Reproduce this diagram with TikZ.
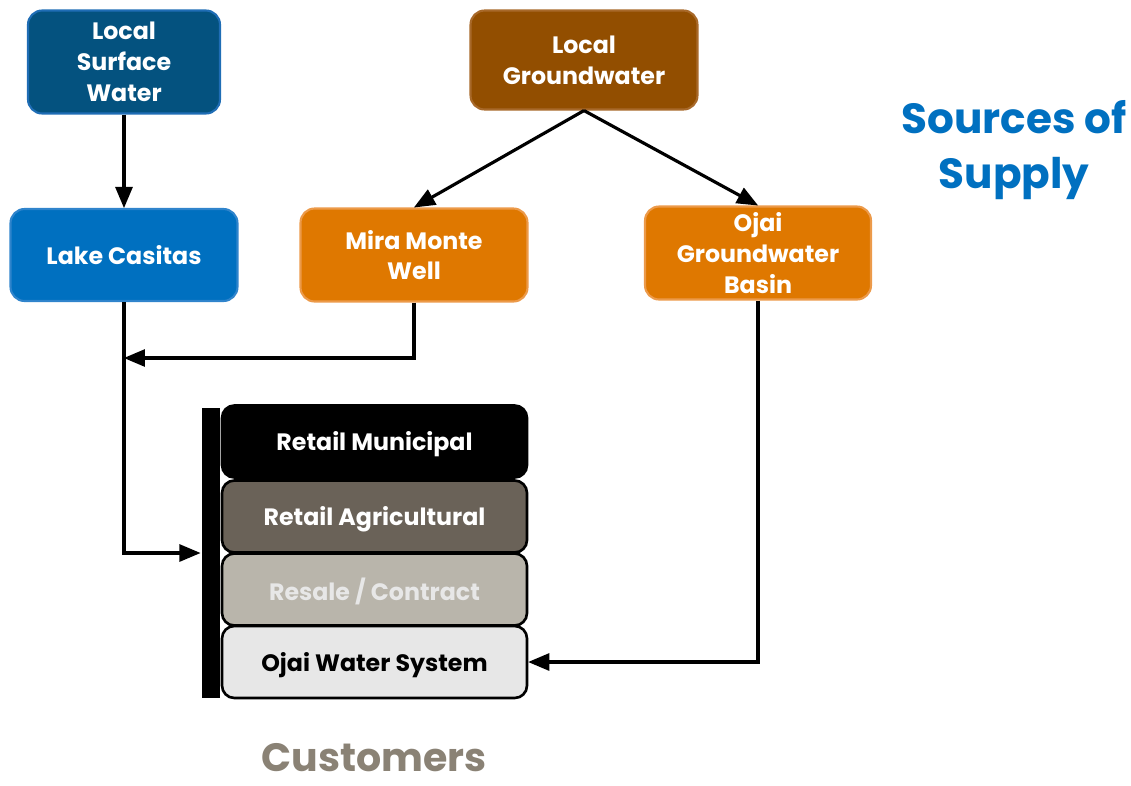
\documentclass[tikz,border=0pt]{standalone}
\usepackage{fontspec}
\setmainfont{Poppins}
\usetikzlibrary{arrows,shapes}
\definecolor{surfblue}{HTML}{04527F}
\definecolor{surfline}{HTML}{1F6DB5}
\definecolor{lakeblue}{HTML}{0070C0}
\definecolor{lakeline}{HTML}{2F84CC}
\definecolor{gwbrown}{HTML}{924E00}
\definecolor{gwline}{HTML}{A8692A}
\definecolor{wellorange}{HTML}{DF7800}
\definecolor{wellline}{HTML}{EC9A4A}
\definecolor{agrey}{HTML}{6A6258}
\definecolor{rgrey}{HTML}{B9B5AB}
\definecolor{ogrey}{HTML}{E7E7E7}
\definecolor{custtext}{HTML}{8A8275}
\tikzstyle{src}=[rectangle,rounded corners=8pt,line width=1.2pt,text=white,align=center,font=\bfseries\fontsize{13.5}{17.5}\selectfont]
\tikzstyle{cust}=[rectangle,rounded corners=7pt,draw=black,line width=1.5pt,minimum width=6.1cm,minimum height=1.44cm,text depth=0.1ex,font=\bfseries\fontsize{13.5}{16}\selectfont]
\tikzstyle{flow}=[->,>=triangle 45,line width=1.8pt]
\begin{document}
\begin{tikzpicture}[x=0.02cm,y=-0.02cm,flow]
\useasboundingbox (0,0) rectangle (1131,785);
\node[src,fill=surfblue,draw=surfline,minimum width=3.84cm,minimum height=2.06cm] (LSW) at (124,62) {Local\\Surface\\Water};
\node[src,fill=lakeblue,draw=lakeline,minimum width=4.54cm,minimum height=1.84cm] (LC) at (124,255) {Lake Casitas};
\node[src,fill=gwbrown,draw=gwline,minimum width=4.54cm,minimum height=1.98cm] (LG) at (584,60) {Local\\Groundwater};
\node[src,fill=wellorange,draw=wellline,minimum width=4.54cm,minimum height=1.86cm] (MM) at (414,255) {Mira Monte\\Well};
\node[src,fill=wellorange,draw=wellline,minimum width=4.52cm,minimum height=1.86cm] (OGB) at (758,253) {Ojai\\Groundwater\\Basin};
\node[text=lakeblue,align=center,font=\bfseries\fontsize{24}{31}\selectfont] (SOS) at (1014,150) {Sources of\\Supply};
\node[cust,fill=black,text=white] (RM) at (374.5,441.5) {Retail Municipal};
\node[cust,fill=agrey,text=white] (RA) at (374.5,516.5) {Retail Agricultural};
\node[cust,fill=rgrey,text=ogrey] (RC) at (374.5,589.5) {Resale / Contract};
\node[cust,fill=ogrey,text=black] (OWS) at (374.5,662) {Ojai Water System};
\node[rectangle,fill=black,inner sep=0pt,minimum width=0.36cm,minimum height=5.8cm] (bar) at (211,553) {};
\node[text=custtext,inner sep=0pt,font=\bfseries\fontsize{22.5}{26}\selectfont] (CU) at (374,758) {Customers};
\coordinate (j1) at (124,358);
\draw(LSW)--(LC);
\draw(LG.south)--(MM.north);\draw(LG.south)--(OGB.north);
\draw(LC.south)|-(bar.west);
\draw(MM.south)|-(j1);
\draw(OGB.south)|-(OWS.east);
\end{tikzpicture}
\end{document}
